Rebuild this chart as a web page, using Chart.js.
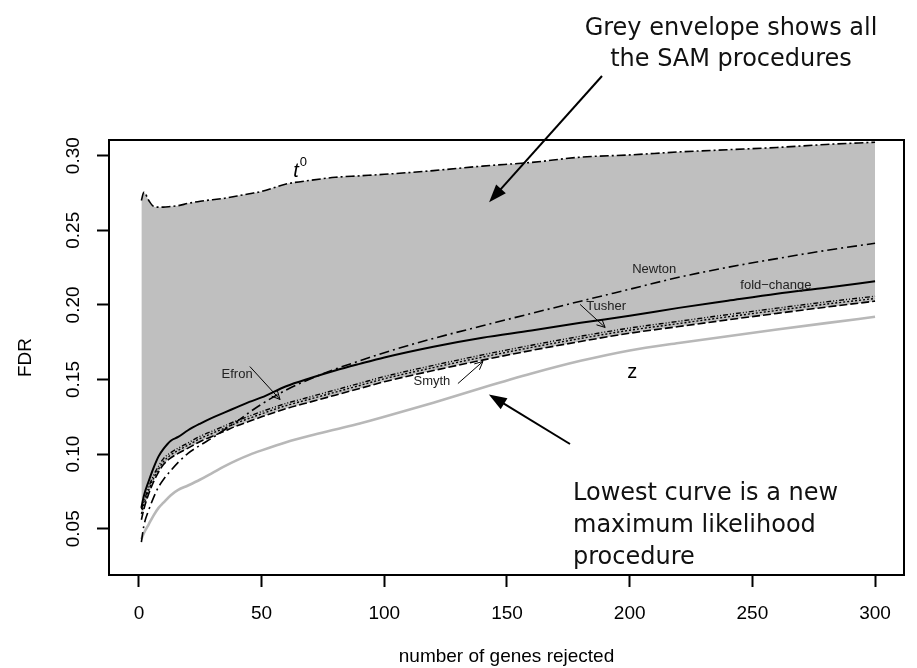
<!DOCTYPE html>
<html lang="en">
<head>
<meta charset="UTF-8">
<title>FDR vs number of genes rejected</title>
<script src="https://cdn.jsdelivr.net/npm/chart.js"></script>
<style>
  html, body { margin: 0; padding: 0; background: #fff; }
  #wrap { width: 917px; height: 668px; }
</style>
</head>
<body>
<div id="wrap"><canvas id="fdr" width="917" height="668"></canvas></div>
<script>
// number of genes rejected (x positions of the read-off points)
const genes = [1, 2, 4, 6, 8, 10, 13, 16, 20, 25, 30, 35, 40, 45, 50, 60, 70, 80, 90, 100, 120, 140, 160, 180, 200, 220, 240, 260, 280, 300];

// FDR curves
const fdrT0     = [0.270, 0.2755, 0.270, 0.266, 0.2655, 0.2655, 0.266, 0.2665, 0.268, 0.2695, 0.2705, 0.2715, 0.273, 0.2745, 0.276, 0.281, 0.2835, 0.2855, 0.2865, 0.2875, 0.290, 0.293, 0.2955, 0.299, 0.3005, 0.3025, 0.304, 0.3055, 0.3075, 0.309];
const fdrNewton = [0.041, 0.052, 0.0625, 0.071, 0.078, 0.083, 0.089, 0.0945, 0.1005, 0.106, 0.111, 0.1165, 0.122, 0.128, 0.1335, 0.143, 0.1505, 0.157, 0.1625, 0.168, 0.1775, 0.186, 0.1943, 0.2025, 0.2105, 0.2185, 0.2252, 0.231, 0.2365, 0.2413];
const fdrFold   = [0.064, 0.072, 0.082, 0.091, 0.0985, 0.1035, 0.109, 0.1115, 0.116, 0.1205, 0.1245, 0.128, 0.1315, 0.135, 0.138, 0.1455, 0.151, 0.156, 0.1605, 0.1648, 0.172, 0.178, 0.1828, 0.188, 0.1927, 0.198, 0.2028, 0.2075, 0.2115, 0.2158];
const fdrTusher = [0.063, 0.068, 0.078, 0.086, 0.092, 0.097, 0.101, 0.104, 0.1075, 0.112, 0.1155, 0.119, 0.1225, 0.1255, 0.1285, 0.134, 0.1385, 0.143, 0.1475, 0.152, 0.1595, 0.1665, 0.173, 0.179, 0.1845, 0.189, 0.1935, 0.1978, 0.202, 0.2058];
const fdrEfron  = [0.060, 0.066, 0.076, 0.084, 0.090, 0.095, 0.0995, 0.1025, 0.106, 0.1105, 0.114, 0.1175, 0.121, 0.124, 0.127, 0.1325, 0.137, 0.1415, 0.146, 0.1505, 0.158, 0.165, 0.1715, 0.1775, 0.183, 0.1875, 0.192, 0.1963, 0.2005, 0.2043];
const fdrSmyth  = [0.056, 0.063, 0.0735, 0.0815, 0.088, 0.093, 0.0975, 0.1005, 0.104, 0.1085, 0.112, 0.1155, 0.119, 0.122, 0.125, 0.1305, 0.135, 0.1395, 0.144, 0.1485, 0.156, 0.163, 0.1695, 0.1755, 0.181, 0.1855, 0.190, 0.1943, 0.1985, 0.2025];
const fdrZ      = [0.043, 0.047, 0.053, 0.059, 0.064, 0.0675, 0.0725, 0.076, 0.079, 0.083, 0.0875, 0.092, 0.096, 0.0995, 0.1025, 0.108, 0.1125, 0.1165, 0.1205, 0.125, 0.1345, 0.1445, 0.154, 0.1625, 0.1695, 0.1745, 0.179, 0.1835, 0.1878, 0.192];

// axis ticks
const xTicks = [0, 50, 100, 150, 200, 250, 300];
const yTicks = [0.05, 0.10, 0.15, 0.20, 0.25, 0.30];

// curve labels (data coordinates) and small arrows
const curveLabels = [
  { text: 'Newton', x: 210, y: 0.2238 },
  { text: 'fold\u2212change', x: 259.6, y: 0.2131 },
  { text: 'Tusher', x: 190.4, y: 0.199 },
  { text: 'Efron', x: 40, y: 0.1534 },
  { text: 'Smyth', x: 119.4, y: 0.1487 }
];
const labelArrows = [
  { from: [45.2, 0.1587], to: [57.5, 0.1366] },
  { from: [179.8, 0.2003], to: [190, 0.1849] },
  { from: [130, 0.1473], to: [140.2, 0.1621] }
];

const pts = arr => genes.map((g, i) => ({ x: g, y: arr[i] }));

function drawArrow(ctx, x1, y1, x2, y2, head, filled) {
  const a = Math.atan2(y2 - y1, x2 - x1);
  const s = filled ? Math.PI / 9 : Math.PI / 7;
  ctx.beginPath();
  ctx.moveTo(x1, y1);
  ctx.lineTo(filled ? x2 - head * 0.8 * Math.cos(a) : x2, filled ? y2 - head * 0.8 * Math.sin(a) : y2);
  ctx.stroke();
  const p1 = [x2 - head * Math.cos(a - s), y2 - head * Math.sin(a - s)];
  const p2 = [x2 - head * Math.cos(a + s), y2 - head * Math.sin(a + s)];
  ctx.beginPath();
  if (filled) {
    ctx.moveTo(x2, y2);
    ctx.lineTo(p1[0], p1[1]);
    ctx.lineTo(p2[0], p2[1]);
    ctx.closePath();
    ctx.fill();
  } else {
    ctx.moveTo(p1[0], p1[1]);
    ctx.lineTo(x2, y2);
    ctx.lineTo(p2[0], p2[1]);
    ctx.stroke();
  }
}

const notes = {
  id: 'notes',
  afterDatasetsDraw(chart) {
    const { ctx, chartArea: a } = chart;
    ctx.save();
    ctx.strokeStyle = '#000';
    ctx.lineWidth = 2;
    ctx.strokeRect(a.left, a.top, a.right - a.left, a.bottom - a.top);
    ctx.restore();
  },
  afterDraw(chart) {
    const { ctx } = chart;
    const xs = chart.scales.x, ys = chart.scales.y;
    const px = v => xs.getPixelForValue(v), py = v => ys.getPixelForValue(v);
    ctx.save();
    ctx.fillStyle = '#000';
    ctx.strokeStyle = '#000';

    // small curve labels
    ctx.font = '13px "Liberation Sans", Arial, sans-serif';
    ctx.fillStyle = '#222';
    ctx.textAlign = 'center';
    ctx.textBaseline = 'middle';
    curveLabels.forEach(l => ctx.fillText(l.text, px(l.x), py(l.y)));
    ctx.lineWidth = 1;
    labelArrows.forEach(r => drawArrow(ctx, px(r.from[0]), py(r.from[1]), px(r.to[0]), py(r.to[1]), 9, false));

    // t0 and z
    ctx.fillStyle = '#000';
    ctx.font = 'italic 20px "Liberation Sans", Arial, sans-serif';
    ctx.fillText('t', px(64), py(0.2896));
    ctx.font = '13px "Liberation Sans", Arial, sans-serif';
    ctx.fillText('0', px(67), py(0.2956));
    ctx.font = '20px "Liberation Sans", Arial, sans-serif';
    ctx.fillText('z', px(201), py(0.1545));

    // callouts
    ctx.font = '24px "DejaVu Sans", Verdana, sans-serif';
    ctx.fillStyle = '#111';
    ctx.textBaseline = 'alphabetic';
    ctx.textAlign = 'center';
    ctx.fillText('Grey envelope shows all', 731, 35);
    ctx.fillText('the SAM procedures', 731, 66);
    ctx.textAlign = 'left';
    ctx.fillText('Lowest curve is a new', 573, 500);
    ctx.fillText('maximum likelihood', 573, 532);
    ctx.fillText('procedure', 573, 564);
    ctx.fillStyle = '#000';
    ctx.lineWidth = 2;
    drawArrow(ctx, 602, 76, px(142.7), py(0.2688), 19, true);
    drawArrow(ctx, 570, 444, px(142.6), py(0.140), 19, true);
    ctx.restore();
  }
};

Chart.defaults.font.family = '"Liberation Sans", Arial, sans-serif';
Chart.defaults.font.size = 19;
Chart.defaults.color = '#000';

const lineDs = (label, arr, dash, width, color) => ({
  label, data: pts(arr), borderColor: color || '#000', borderWidth: width,
  borderDash: dash, pointRadius: 0, fill: false, cubicInterpolationMode: 'monotone'
});

const dsT0 = lineDs('t0', fdrT0, [9, 3, 2, 3], 1.6);
dsT0.fill = { target: 5 };
dsT0.backgroundColor = '#bfbfbf';

new Chart(document.getElementById('fdr'), {
  type: 'line',
  data: {
    datasets: [
      dsT0,
      lineDs('Newton', fdrNewton, [10, 4, 2, 4], 1.6),
      lineDs('fold-change', fdrFold, [], 2),
      lineDs('Tusher', fdrTusher, [5, 2, 1, 2, 1, 2], 1.4),
      lineDs('Efron', fdrEfron, [2, 2], 1.4),
      lineDs('Smyth', fdrSmyth, [8, 3], 1.6),
      lineDs('z', fdrZ, [], 2.6, '#b8b8b8')
    ]
  },
  options: {
    responsive: false,
    animation: false,
    layout: { padding: { top: 140, right: 13, left: 0, bottom: 0 } },
    plugins: {
      legend: { display: false },
      tooltip: { enabled: false },
      filler: { drawTime: 'beforeDatasetsDraw' }
    },
    scales: {
      x: {
        type: 'linear',
        min: -12.2,
        max: 311.8,
        afterBuildTicks: s => { s.ticks = xTicks.map(v => ({ value: v })); },
        afterFit: s => { s.height = 93; },
        ticks: { padding: 15, callback: v => String(v) },
        grid: { drawOnChartArea: false, drawTicks: true, tickLength: 12, tickWidth: 2, tickColor: '#000' },
        border: { display: false },
        title: { display: true, text: 'number of genes rejected', padding: { top: 0, bottom: 0 }, font: { size: 19 } }
      },
      y: {
        min: 0.019,
        max: 0.3105,
        afterBuildTicks: s => { s.ticks = yTicks.map(v => ({ value: v })); },
        afterFit: s => { s.width = 109; },
        ticks: { padding: 5, minRotation: 90, maxRotation: 90, crossAlign: 'center', autoSkip: false, callback: v => v.toFixed(2) },
        grid: { drawOnChartArea: false, drawTicks: true, tickLength: 12, tickWidth: 2, tickColor: '#000' },
        border: { display: false },
        title: { display: true, text: 'FDR', padding: { top: 14, bottom: 0 }, font: { size: 19 } }
      }
    }
  },
  plugins: [notes]
});
</script>
</body>
</html>
